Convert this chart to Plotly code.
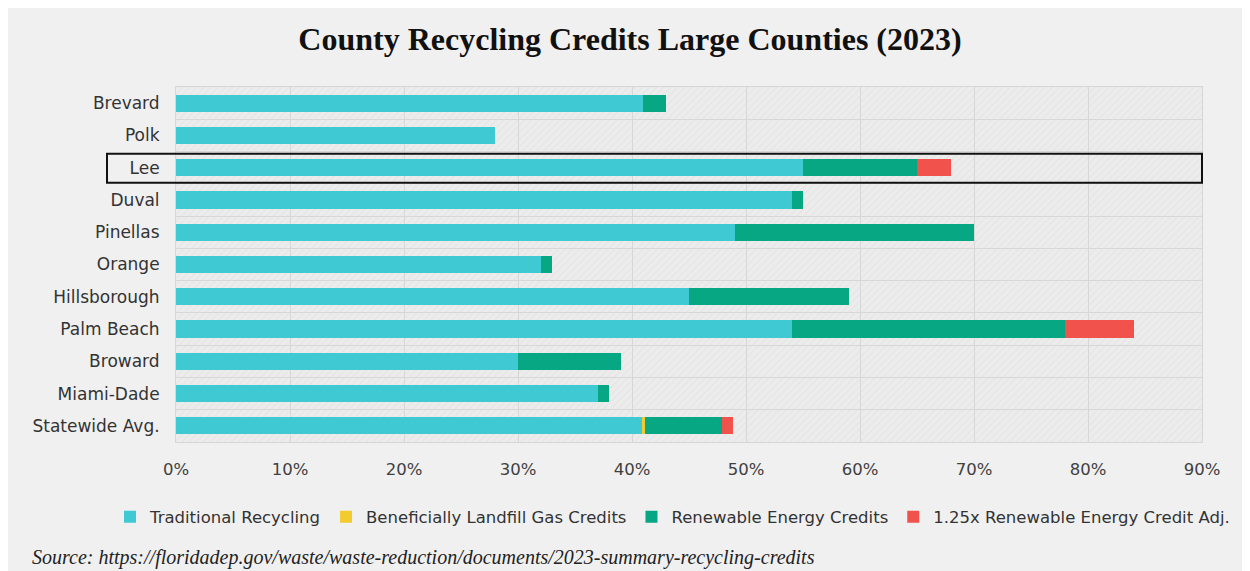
import plotly.graph_objects as go

categories = ["Brevard", "Polk", "Lee", "Duval", "Pinellas", "Orange",
              "Hillsborough", "Palm Beach", "Broward", "Miami-Dade", "Statewide Avg."]
traditional = [41, 28, 55, 54, 49, 32, 45, 54, 30, 37, 40.9]
landfill_gas = [0, 0, 0, 0, 0, 0, 0, 0, 0, 0, 0.2]
renewable = [2, 0, 10, 1, 21, 1, 14, 24, 9, 1, 6.8]
renewable_adj = [0, 0, 3, 0, 0, 0, 0, 6, 0, 0, 1]
x_ticks = [0, 10, 20, 30, 40, 50, 60, 70, 80, 90]
x_tick_labels = ["0%", "10%", "20%", "30%", "40%", "50%", "60%", "70%", "80%", "90%"]

series = [
    ("Traditional Recycling", traditional, "#3fc9d3"),
    ("Beneficially Landfill Gas Credits", landfill_gas, "#f2cb2f"),
    ("Renewable Energy Credits", renewable, "#08a784"),
    ("1.25x Renewable Energy Credit Adj.", renewable_adj, "#f1524b"),
]

# page body margin shifts the figure by 8px
OFF = 8
W, H = 1250 - OFF, 571 - OFF
L, T = 176 - OFF, 87 - OFF
R = W - (1202 - OFF)
B = H - (442 - OFF)
pw, ph = W - L - R, H - T - B

def px(xp):  # reference-pixel x -> paper x
    return (xp - OFF - L) / pw

def py(yp):  # reference-pixel y -> paper y
    return (H - B - (yp - OFF)) / ph

SANS = "DejaVu Sans"

fig = go.Figure()

# hatched plot background (on hidden linear y axis)
fig.add_trace(go.Scatter(
    x=[0, 90, 90, 0, 0], y=[0, 0, 1, 1, 0], mode="lines", fill="toself",
    line=dict(width=0), fillcolor="rgba(0,0,0,0)",
    fillpattern=dict(shape="/", fgcolor="#dedede", bgcolor="rgba(0,0,0,0)",
                     size=5, solidity=0.25),
    showlegend=False, hoverinfo="skip", xaxis="x", yaxis="y"))

for name, vals, col in series:
    fig.add_trace(go.Bar(
        y=categories, x=vals, name=name, orientation="h",
        marker=dict(color=col, line=dict(width=0)),
        width=0.53, xaxis="x", yaxis="y2"))

fig.update_layout(
    width=W, height=H,
    barmode="stack",
    paper_bgcolor="#f0f0f0",
    plot_bgcolor="#ececec",
    margin=dict(l=L, r=R, t=T, b=B),
    title=dict(text="<b>County Recycling Credits Large Counties (2023)</b>",
               x=(630 - OFF) / W, xanchor="center", y=1 - (39 - OFF) / H, yanchor="middle",
               font=dict(family="Liberation Serif", size=32, color="#111111")),
    font=dict(family=SANS, color="#333333"),
    xaxis=dict(range=[0, 90], tickmode="array", tickvals=x_ticks, ticktext=x_tick_labels,
               showgrid=True, gridcolor="#d6d6d6", gridwidth=1,
               zeroline=False, showline=True, linecolor="#d6d6d6", mirror=True,
               ticks="", tickfont=dict(family=SANS, size=16.5, color="#404040"),
               ticklabelstandoff=12, fixedrange=True),
    yaxis=dict(range=[0, 1], visible=False, fixedrange=True),
    yaxis2=dict(overlaying="y", side="left", type="category",
                range=[10.5, -0.5], showgrid=True, tickson="boundaries",
                gridcolor="#d6d6d6", showline=True, linecolor="#d6d6d6",
                mirror=True, ticks="", tickfont=dict(family=SANS, size=17, color="#333333"),
                ticklabelstandoff=12, fixedrange=True),
    legend=dict(orientation="h", x=px(110), xanchor="left",
                y=py(517), yanchor="middle",
                font=dict(family=SANS, size=16.5, color="#333333"),
                itemwidth=30, traceorder="normal", bgcolor="rgba(0,0,0,0)"),
    showlegend=True,
    shapes=[
        dict(type="rect", xref="paper", yref="y2", x0=px(107), x1=1.0,
             y0=1.57, y1=2.47, line=dict(color="#111111", width=2),
             fillcolor="rgba(0,0,0,0)", layer="above"),
    ],
    annotations=[
        dict(text="Source: https://floridadep.gov/waste/waste-reduction/documents/2023-summary-recycling-credits",
             xref="paper", yref="paper", x=px(30), y=py(557), xanchor="left",
             yanchor="middle", showarrow=False,
             font=dict(family="Liberation Serif", size=20, color="#222222", style="italic")),
    ],
)

fig.write_html("out.html")
